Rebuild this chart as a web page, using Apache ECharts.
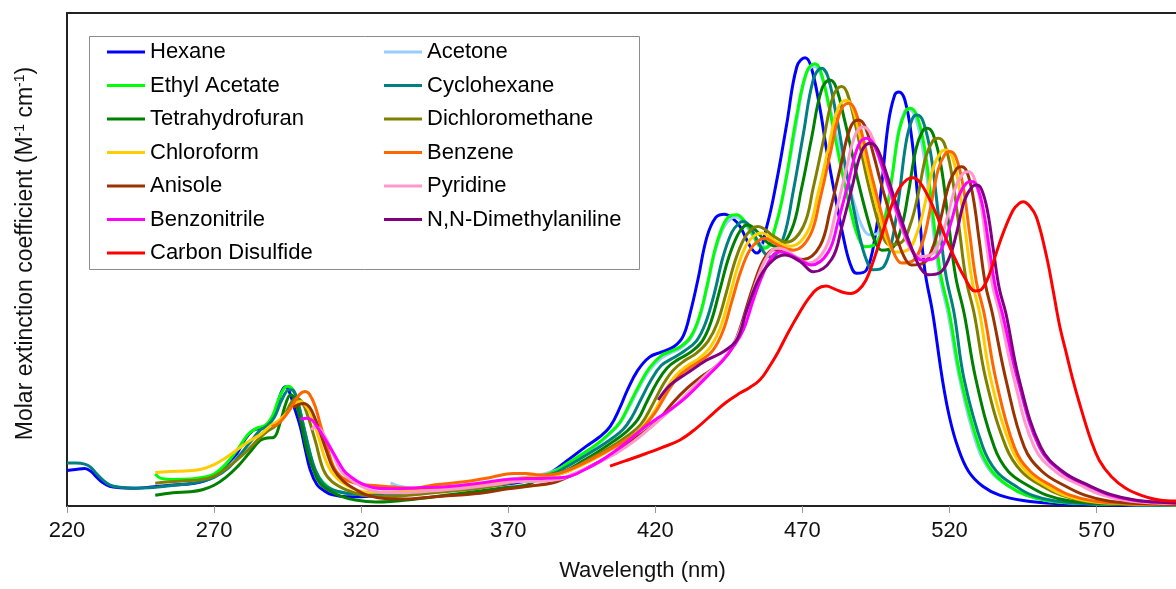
<!DOCTYPE html>
<html><head><meta charset="utf-8">
<script src="https://cdn.jsdelivr.net/npm/echarts@6/dist/echarts.min.js"></script>
<style>html,body{margin:0;padding:0;background:#fff}#c{width:1176px;height:589px}</style>
</head><body><div id="c"></div>
<script>
// Series names (row-wise legend order, also drawing order)
const seriesNames = ['Hexane','Acetone','Ethyl Acetate','Cyclohexane','Tetrahydrofuran','Dichloromethane','Chloroform','Benzene','Anisole','Pyridine','Benzonitrile','N,N-Dimethylaniline','Carbon Disulfide'];

// [wavelength nm, relative extinction]
const hexane = [[220,7.2],[223,7.4],[226,7.6],[228,7.1],[230,5.9],[232,4.8],[234.5,4.0],[238,3.7],[242.6,3.6],[248,3.8],[255,4.2],[260,4.4],[265,4.8],[270,6],[274,8.3],[277.8,10.7],[280.5,13.5],[283.4,15.4],[286,15.8],[289,17.1],[291,19.5],[292.8,23],[294.2,24.2],[295.5,23.3],[297,20.5],[299.3,16.1],[301,11.5],[302.7,7.3],[305,4.3],[307.2,3.2],[310,2.3],[315,1.9],[320,1.9],[330,2.3],[340,2.7],[350,3.2],[360,3.8],[370,4.5],[378,5.3],[385,7],[390,9.2],[396.7,12.2],[401,14],[404.6,16.1],[408,20],[410.5,23.5],[414,27.5],[418,30.2],[422,31.2],[426.5,32.4],[429.5,34.5],[432,39.5],[434.5,46],[437.5,54.5],[440.5,58.5],[443.5,59.2],[446,58.5],[448.8,56.7],[452.2,52.7],[454.5,51.3],[457.9,56.7],[461.3,66.1],[464.7,77.6],[468.1,89.1],[470.9,90.9],[473,89],[476,80.5],[478,73],[480.5,64.8],[483.9,54.6],[486.2,49.2],[488.4,47.2],[491.8,47.9],[494.7,54.6],[496.9,64.8],[499.2,77.6],[501.4,83.4],[502.8,84],[504.8,82.4],[507.1,74.9],[509.4,61.4],[511.6,47.9],[514.3,39.1],[517.6,25.6],[520,18],[522.8,12],[526.5,7],[531.3,4],[537,2.2],[545,1.1],[556,0.5],[575,0.2],[597,0.1]];
const acetone = [[330,4.7],[333,4.0],[340,3.5],[350,3.9],[360,4.5],[370,5.4],[378,6],[385,7],[390,8.5],[395,10.3],[400,12.3],[404,14.3],[408,16.8],[411.5,20.5],[414.5,24],[418,27.5],[422,30],[425,31],[428.5,32],[432,34],[435,38],[437.5,44],[440.5,52],[443.5,56.8],[446,58.4],[447.3,58.6],[450,57.5],[453,55],[456,53],[458,52.5],[460.8,56.5],[464.2,65.3],[467.6,76.4],[471,87],[473.8,89.2],[476.1,87.8],[479.3,81],[481.6,75.2],[484.3,68.7],[487.9,60.8],[490.3,56.7],[492.8,55],[496,55.5],[498.6,60.1],[500.6,67.2],[502.7,76.2],[504.7,80],[506,80.5],[508.3,79],[511,72.2],[513.7,59.8],[516.4,47.3],[519.5,39],[523.5,25.6],[529.5,12],[534,7],[540,4],[546,2.2],[554,1],[565,0.5],[597,0.2]];
const ethylAcetate = [[250,6.5],[252,5.6],[256,5.4],[262,5.5],[266,5.8],[270,6.5],[274,8.5],[278,11.5],[281.5,14.5],[284.6,15.8],[287.5,16.4],[290,18.5],[292.5,22.5],[295,24.3],[296.5,23.8],[298.5,21],[300.5,16],[302.5,11],[304.4,7.3],[307,4.8],[310.6,3.2],[315,2.6],[320,2.3],[330,2.5],[340,2.9],[350,3.4],[360,4.0],[370,4.8],[378,5.6],[385,6.8],[390,8.6],[395,10.5],[400,12.5],[404,14.5],[408,17],[411.5,21],[414.5,24.5],[418,28],[422,30.5],[425,31.3],[428.5,32.3],[432,34.3],[435,38.5],[437.5,44.5],[440.5,52.5],[443.5,57.5],[446,59],[447.7,59.1],[450,58],[452.5,55.8],[455,53],[457.3,52.3],[461.2,57.5],[464.6,67],[468,79],[471.4,88],[474.2,89.7],[476.2,88.2],[479.1,80.8],[481.2,74.5],[483.6,67.4],[486.8,58.9],[489,54.5],[491.2,52.6],[494.9,53.2],[498,58.2],[500.3,66.1],[502.8,75.9],[505.1,80.1],[506.6,80.7],[508.9,79.2],[511.6,72.4],[514.2,59.9],[516.9,47.3],[520,39],[523.9,25.6],[530.1,12],[534.5,7],[540.3,4],[546,2.2],[554,1],[565,0.5],[597,0.2]];
const cyclohexane = [[220,8.7],[223,8.7],[226,8.5],[228,7.9],[230,6.6],[232,5.4],[234.5,4.3],[238,3.8],[242.6,3.6],[248,3.7],[255,4.1],[260,4.4],[265,4.9],[270,5.8],[275,7.8],[279,10.5],[283,13.5],[285.7,15.4],[288,16.2],[290.5,18],[293,21.5],[295.5,23.6],[296.8,23.5],[298.5,21],[300.5,16],[302.5,11],[304.4,7.3],[307,4.6],[309.5,3.5],[311.8,3.0],[315,2.6],[320,2.3],[330,2.4],[340,2.8],[350,3.3],[360,3.9],[370,4.8],[378,5.8],[385,6.5],[390,8],[395,9.8],[400,11.6],[405,13.6],[409,15.5],[412,18],[415,21.5],[418.5,25.5],[422,28.5],[426,30],[430,31.5],[434,33.5],[437,37],[440,43],[443,50.5],[446,55.5],[448.5,57.4],[449.9,57.7],[452,56.8],[455,53.5],[457.5,51],[459.5,50.5],[463.5,54.3],[466.9,63.9],[470.3,75.4],[473.7,86.5],[476.5,88.8],[478.6,87.2],[481.6,79],[483.7,72],[486.1,64.3],[489.4,54.8],[491.7,50],[494,47.9],[497.6,48.5],[500.6,54.2],[502.9,63],[505.3,74],[507.5,78.7],[509,79.3],[511.1,77.9],[513.7,71.2],[516.2,59.2],[518.7,47.1],[521.6,39],[525,25.6],[531.3,12],[536,7],[542.6,4],[548,2.2],[556,1],[567,0.5],[597,0.2]];
const tetrahydrofuran = [[250,2.2],[256,2.7],[262,2.9],[266,3.3],[270,4.2],[274,5.8],[278,8],[282,10.8],[285.7,13.3],[288,13.8],[290.2,13.9],[292.5,17],[294.5,21],[296,22.5],[297.5,21.5],[299.5,17],[301.5,11.5],[303.8,7.3],[306,4.6],[309,3.2],[313,2],[318,1.2],[325,0.8],[330,0.9],[340,1.5],[350,2.3],[360,3],[370,3.8],[376,4.2],[380,5.3],[385,6.2],[390,7.3],[395,9],[400,10.8],[405,12.8],[410,15],[414,17.5],[417,21],[420.5,25],[424,28],[428,29.8],[432,31.2],[436,33.5],[439,37.5],[442,44],[445,50.5],[448,55],[450.3,56.8],[451.6,57],[454,56],[457,54],[459.5,52.9],[461.5,52.6],[466.3,56],[469.7,64.4],[473.1,74.6],[476.5,84.4],[479.3,86.4],[481.4,85],[484.4,78.1],[486.6,72.3],[489,65.7],[492.4,57.8],[494.7,53.6],[497,51.9],[500.7,52.4],[503.8,56.8],[506.1,63.8],[508.6,72.4],[510.9,76.1],[512.4,76.6],[514.5,75.3],[517.1,69.1],[519.6,57.8],[522.1,46.5],[525,39],[529,25.6],[535.2,12],[540,7],[547.1,4],[553,2.2],[561,1],[572,0.5],[597,0.2]];
const dichloromethane = [[250,4.6],[255,4.9],[260,5.1],[265,5.3],[270,6],[275,8],[280,10.5],[285,13.5],[288,15.1],[291,16.3],[294,18.5],[296.5,21.2],[298.2,21.8],[300,21],[302,18],[304.5,13],[307.2,7.3],[310,5],[315.2,3.2],[320,2.3],[325,2],[330,2.0],[340,2.4],[350,3],[360,3.6],[370,4.6],[378,5.7],[385,6.2],[390,7],[395,8.6],[400,10.3],[405,12],[410,14],[415,16.5],[419,20.5],[422.5,24.5],[426,27.5],[430,29.5],[434,31],[438,33.5],[441,37],[444,43],[447,49.5],[450,54],[453,56.3],[455,56.7],[457.5,56],[460,54.8],[464.5,53.5],[470.3,56.7],[473.7,64.6],[477.1,74],[480.5,83.2],[483.3,85.1],[485.2,83.8],[488,77.4],[490,71.9],[492.2,65.8],[495.3,58.5],[497.4,54.6],[499.5,53],[503.5,53.4],[506.8,57.3],[509.4,63.4],[512,70.9],[514.5,74.2],[516.2,74.6],[518.3,73.4],[520.7,67.5],[523.2,56.8],[525.6,46.1],[528.4,39],[532.4,25.6],[539.2,12],[544.5,7],[551.6,4],[558,2.2],[566,1],[577,0.5],[597,0.25]];
const chloroform = [[250,6.8],[255,7],[260,7.1],[265.3,7.4],[270,8.4],[274,9.8],[278,11.5],[282,13.2],[286,14.6],[289,16.2],[292.3,17.5],[295,19],[297.5,20.8],[299.3,21.2],[301,20.5],[303,18.5],[305.5,14],[307.5,10],[309.5,7.3],[312,5.5],[315,4.2],[318.6,3.2],[322,2.8],[330,2.8],[340,3.2],[350,3.7],[360,4.2],[370,5.2],[378,6],[385,6.2],[390,7],[395,8.3],[400,9.8],[405,11.5],[410,13.3],[415,15.6],[420,19.5],[423.5,23.5],[427,26.5],[431,28.5],[435,30],[439,32.5],[442,36],[445,42],[448,48.5],[451,53],[454,55],[456.3,55.4],[459,54.5],[462,53.3],[466,52.7],[471.8,55.7],[475.2,63.1],[478.6,71.9],[482,80.5],[484.8,82.3],[486.8,81.1],[489.6,74.9],[491.6,69.7],[494,63.8],[497.2,56.7],[499.3,53.2],[501.5,51.5],[505.7,51.9],[509.1,55.6],[511.7,61.4],[514.5,68.7],[517.1,71.8],[518.8,72.2],[520.8,71],[523,65.6],[525.4,55.6],[527.7,45.6],[530.3,39],[534.1,25.6],[540.9,12],[546,7],[553,4],[559,2.2],[567,1],[578,0.5],[597,0.25]];
const benzene = [[289.6,16.1],[292,16.8],[294.5,18.5],[297,20.8],[299,22.6],[300.9,23.2],[302.5,22.6],[304.5,20],[306,16.8],[308.5,11.8],[310.6,8],[313,6],[316,5],[319.7,4.4],[323,4.2],[330,3.9],[337.7,3.6],[345,4.3],[355,4.9],[364,5.8],[371.7,6.6],[376,6.6],[380.8,6.3],[385,6.4],[390,7.2],[395,8.5],[400,10],[405,11.6],[410,13.4],[415,15.5],[420,19],[424,23],[427.5,26],[431.5,28],[435.5,29.5],[439.5,31.5],[443,35.5],[446,41.5],[449,47.5],[452,51.8],[455,53.8],[457.3,54.3],[460,53.5],[463,52.5],[466.9,51.9],[472.6,54.9],[476,62.3],[479.4,71.3],[482.8,79.9],[485.6,81.7],[487.8,80.4],[490.9,73.9],[493,68.4],[495.6,62.3],[499,54.8],[501.4,50.9],[503.7,49.3],[507.7,49.8],[511,53.8],[513.4,60.1],[516.1,68.1],[518.6,71.5],[520.2,71.9],[522.2,70.7],[524.5,65.3],[526.8,55.5],[529.1,45.6],[531.8,39],[535.8,25.6],[542,12],[547.5,7],[555,4],[561,2.2],[569,1],[580,0.5],[597,0.3]];
const anisole = [[297,20],[298.5,20.5],[300.4,20.8],[302.5,20],[304.5,17.5],[306,15],[308,11.5],[310.6,7.5],[314,5],[318.6,3.2],[322,2.2],[328,1.5],[335,1.4],[345,1.9],[360.4,2.6],[370,3.5],[377,4],[385.3,4.7],[390,5.8],[395,7.2],[400,8.7],[405,10.3],[410,12.3],[415,14.5],[421,17.4],[426,21],[431,24],[435.5,26.2],[440,28],[443.5,30],[446,32],[448.5,35.5],[451.1,40.5],[453.5,45],[456,49],[458.2,51.2],[460.1,52],[462.5,51.8],[466,50.8],[470.2,50],[476,52.8],[479.4,59.9],[482.8,68.4],[486.2,76.6],[489,78.3],[491.2,77.1],[494.2,71.2],[496.4,66.2],[499,60.7],[502.4,53.9],[504.7,50.4],[507.1,48.9],[511.2,49.3],[514.6,52.9],[517.1,58.5],[519.9,65.4],[522.4,68.4],[524.1,68.8],[525.9,67.8],[528,62.8],[530.1,53.9],[532.2,45],[534.6,39],[539.2,25.6],[545.4,12],[551.5,7],[559.5,4],[566,2.2],[574,1],[585,0.5],[597,0.35]];
const pyridine = [[303,15.5],[304.5,16],[306,15.6],[308,13.8],[310,11.2],[312.9,7.3],[316,5.5],[320,4],[323.2,3.2],[328,2.7],[335,2.7],[345,3.1],[355,3.6],[365,4.3],[372,4.9],[380,5],[388,5.5],[392,6.5],[397,7.8],[402,9.2],[407,10.8],[412,12.8],[417,15.2],[422,17.8],[427,20.5],[432,23.5],[437,26.5],[441.5,28.8],[445,31.3],[448,34.5],[451,39.5],[454,45],[457,49.5],[459.5,51.8],[461.5,52.3],[464,52],[468,50.5],[472,49.3],[477.7,52.1],[481.1,59],[484.5,67.2],[487.9,75.2],[490.7,76.9],[492.9,75.8],[496.1,70.6],[498.4,66.1],[501,61.1],[504.5,55.1],[507,51.9],[509.4,50.6],[513.5,50.9],[516.9,54],[519.4,58.9],[522.2,64.9],[524.7,67.5],[526.4,67.8],[528.2,66.8],[530.4,62],[532.5,53.4],[534.6,44.8],[537.1,39],[542,25.6],[548.8,12],[556,7],[565.2,4],[572,2.2],[580,1.1],[590,0.6],[597,0.5]];
const benzonitrile = [[299.3,17.6],[301.6,17.8],[303.5,17.3],[305,16.1],[307.5,13.8],[310.6,10.7],[314,7.3],[316.3,6],[320,4.6],[325.4,3.6],[330,3.5],[340,3.7],[349,3.9],[360,4.6],[371.8,5.5],[380,5.6],[389.9,5.9],[396.7,7.6],[401,9],[406,11],[411,13.3],[416,15.8],[420,17.5],[425,19.5],[430.7,22.2],[437.5,26.2],[443.1,29.6],[446.5,32.3],[449.9,35.7],[453.3,41.8],[456.7,47.2],[460.1,50.9],[462.5,51.5],[465,51.2],[469,50],[473,48.9],[478.8,51.5],[482.2,57.9],[485.6,65.6],[489,73.1],[491.8,74.6],[494,73.6],[497.2,68.7],[499.5,64.5],[502.1,59.8],[505.6,54.1],[508.1,51.1],[510.5,49.9],[514.6,50.2],[518,53.1],[520.5,57.5],[523.3,63.1],[525.8,65.5],[527.5,65.8],[529.3,64.9],[531.4,60.4],[533.5,52.4],[535.6,44.4],[538,39],[543.2,25.6],[550.5,12],[558,7],[567.5,4],[574,2.3],[582,1.2],[590,0.8],[597,0.6]];
const dimethylaniline = [[421,21.5],[425,24.5],[430.7,26.9],[437.5,29.6],[443.1,31.3],[447.7,33.7],[451.1,39.8],[455.6,46.5],[460.1,49.9],[464,50.9],[469.2,49.6],[473.7,47.5],[480,50.1],[483.4,56.6],[486.8,64.5],[490.2,72],[493,73.6],[495.4,72.5],[498.7,67.2],[501.1,62.7],[503.9,57.6],[507.7,51.4],[510.2,48.2],[512.8,46.9],[516.7,47.3],[520,50.5],[522.5,55.6],[525.1,62],[527.6,64.7],[529.2,65.1],[530.9,64.2],[532.9,59.9],[534.9,52],[536.9,44.2],[539.2,39],[543.7,25.6],[551,12],[558.5,7],[568,4],[575,2.3],[583,1.2],[590,0.8],[597,0.6]];
const carbonDisulfide = [[404.6,8.1],[410,9.2],[417.1,10.7],[422,11.8],[428.4,13.4],[434,15.8],[439.7,18.8],[444,21],[448.8,22.9],[452,24],[455.6,25.6],[459,28.5],[461.8,31.3],[465,35],[468.9,39.1],[472,42],[475,44],[478,44.6],[481,44],[484,43.3],[486.5,43.1],[489,43.8],[491.6,45.8],[494,49.5],[496.5,54],[498.6,58],[501,62],[503,64.5],[505.5,66.2],[507.7,66.6],[510,65.6],[513,62.5],[516,58.5],[519,54],[522,50],[525,46.5],[528.7,43.6],[531,44],[533.7,47.2],[536,51.5],[538.2,55.3],[541.6,60],[543.5,61.3],[545,61.7],[547.3,60.8],[549.6,58.5],[553,50.6],[555.2,43.8],[557.5,36.4],[559.5,31.5],[562,25.5],[565.2,18.8],[568,13.5],[570.9,9.3],[575,6],[579.9,3.6],[585,2.2],[591.3,1.2],[597,1.0]];

const seriesData = [hexane, acetone, ethylAcetate, cyclohexane, tetrahydrofuran, dichloromethane, chloroform, benzene, anisole, pyridine, benzonitrile, dimethylaniline, carbonDisulfide];
const seriesColors = ['#0000FF','#99CCFF','#00FF00','#008080','#008000','#808000','#FFCC00','#FF6600','#993300','#FF99CC','#FF00FF','#800080','#FF0000'];

const xMin = 220, xMax = 597, xStep = 50;
const xTitle = 'Wavelength (nm)';
const yTitleRich = '{a|Molar extinction coefficient (M}{b|-1}{a| cm}{b|-1}{a|)}';

const FONT = "'Liberation Sans', Arial, sans-serif";
const chart = echarts.init(document.getElementById('c'), null, {renderer: 'canvas'});

const legendCommon = {
  orient: 'vertical', top: 40, itemWidth: 38, itemHeight: 3, icon: 'rect',
  itemGap: 9.5, padding: 0, selectedMode: false, z: 5,
  textStyle: {fontSize: 22, fontFamily: FONT, color: '#000', lineHeight: 24}
};

chart.setOption({
  animation: false,
  backgroundColor: '#fff',
  grid: {left: 67, right: 0, top: 13, bottom: 83, containLabel: false, outerBoundsMode: 'none'},
  graphic: [{
    type: 'rect', z: 3,
    shape: {x: 89.5, y: 36.5, width: 550, height: 233},
    style: {fill: '#fff', stroke: '#8c8c8c', lineWidth: 1}
  }],
  legend: [
    Object.assign({}, legendCommon, {left: 107, data: seriesNames.filter((n, i) => i % 2 === 0)}),
    Object.assign({}, legendCommon, {left: 384, data: seriesNames.filter((n, i) => i % 2 === 1)})
  ],
  xAxis: [{
    type: 'value', min: xMin, max: xMax, interval: xStep,
    axisLine: {show: true, lineStyle: {color: '#222', width: 2}},
    axisTick: {show: true, length: 7, lineStyle: {color: '#999', width: 1}},
    axisLabel: {fontSize: 22, fontFamily: FONT, color: '#111', margin: 14, showMaxLabel: false},
    splitLine: {show: false},
    name: xTitle, nameLocation: 'middle', nameGap: 54,
    nameTextStyle: {fontSize: 22, fontFamily: FONT, color: '#111', padding: [0, 0, 0, 42]}
  }, {
    type: 'value', min: xMin, max: xMax, position: 'top',
    axisLine: {show: true, lineStyle: {color: '#222', width: 2}},
    axisTick: {show: false}, axisLabel: {show: false}, splitLine: {show: false}
  }],
  yAxis: {
    type: 'value', min: 0, max: 100,
    axisLine: {show: true, lineStyle: {color: '#222', width: 2}},
    axisTick: {show: false}, axisLabel: {show: false}, splitLine: {show: false},
    name: yTitleRich, nameLocation: 'middle', nameGap: 28,
    nameTextStyle: {
      color: '#111', fontFamily: FONT, padding: [0, 0, 0, 12],
      rich: {
        a: {fontSize: 23, fontFamily: FONT, color: '#111', lineHeight: 26},
        b: {fontSize: 14, fontFamily: FONT, color: '#111', verticalAlign: 'top', lineHeight: 15}
      }
    }
  },
  series: seriesNames.map((name, i) => ({
    name: name, type: 'line', xAxisIndex: 0, data: seriesData[i],
    smooth: 0.4, showSymbol: false, symbol: 'none',
    color: seriesColors[i],
    lineStyle: {width: 3, color: seriesColors[i]},
    emphasis: {disabled: true}
  }))
});
</script></body></html>
